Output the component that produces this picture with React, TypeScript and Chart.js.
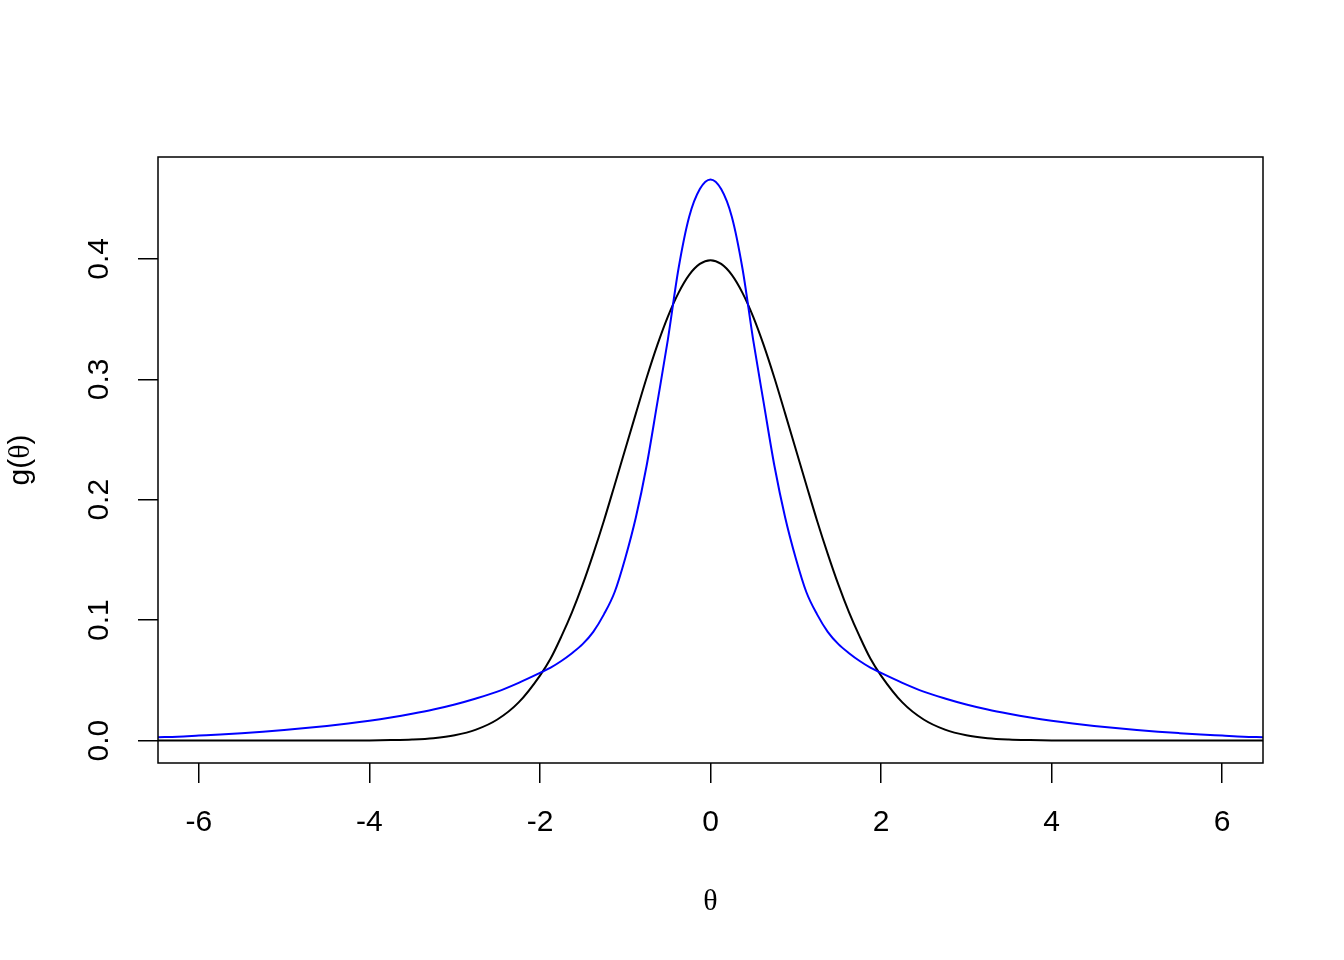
import React, { useEffect, useRef } from "react";
import { Chart, registerables } from "chart.js";

Chart.register(...registerables);

// θ grid
const theta = [
  -6.48, -6.25, -6, -5.75, -5.5, -5.25, -5, -4.75, -4.5, -4.25, -4, -3.75, -3.5, -3.25, -3, -2.75, -2.5, -2.25,
  -2, -1.875, -1.75, -1.625, -1.5, -1.375, -1.25, -1.125, -1, -0.875, -0.75, -0.625, -0.5, -0.375, -0.25, -0.125,
  0,
  0.125, 0.25, 0.375, 0.5, 0.625, 0.75, 0.875, 1, 1.125, 1.25, 1.375, 1.5, 1.625, 1.75, 1.875, 2,
  2.25, 2.5, 2.75, 3, 3.25, 3.5, 3.75, 4, 4.25, 4.5, 4.75, 5, 5.25, 5.5, 5.75, 6, 6.25, 6.48,
];

// black curve
const blackDensity = [
  0, 0, 0, 0, 0, 0, 0, 0, 0, 0, 0.0001, 0.0004, 0.0009, 0.002, 0.0044, 0.0091, 0.0175, 0.0317,
  0.054, 0.0681, 0.0863, 0.1065, 0.1295, 0.1551, 0.1826, 0.2121, 0.242, 0.2717, 0.3011, 0.3282, 0.3521, 0.3718, 0.3867, 0.3958,
  0.3989,
  0.3958, 0.3867, 0.3718, 0.3521, 0.3282, 0.3011, 0.2717, 0.242, 0.2121, 0.1826, 0.1551, 0.1295, 0.1065, 0.0863, 0.0681, 0.054,
  0.0317, 0.0175, 0.0091, 0.0044, 0.002, 0.0009, 0.0004, 0.0001, 0, 0, 0, 0, 0, 0, 0, 0, 0, 0,
];

// blue curve
const blueDensity = [
  0.0028, 0.0033, 0.0042, 0.0051, 0.0062, 0.0074, 0.0088, 0.0104, 0.0122, 0.0142, 0.0165, 0.0192, 0.0223, 0.0258, 0.03, 0.035, 0.0407, 0.048,
  0.0562, 0.0606, 0.0661, 0.0726, 0.0801, 0.0903, 0.1048, 0.1232, 0.1515, 0.1855, 0.228, 0.28, 0.333, 0.392, 0.435, 0.458,
  0.466,
  0.458, 0.435, 0.392, 0.333, 0.28, 0.228, 0.1855, 0.1515, 0.1232, 0.1048, 0.0903, 0.0801, 0.0726, 0.0661, 0.0606, 0.0562,
  0.048, 0.0407, 0.035, 0.03, 0.0258, 0.0223, 0.0192, 0.0165, 0.0142, 0.0122, 0.0104, 0.0088, 0.0074, 0.0062, 0.0051, 0.0042, 0.0033, 0.0028,
];

const xTicks = [-6, -4, -2, 0, 2, 4, 6];
const yTicks = [0, 0.1, 0.2, 0.3, 0.4];
const xLimits = [-6.48, 6.48];
const yLimits = [-0.0186, 0.4846];

const xTitle = "θ";
const yTitleParts = ["g(", "θ", ")"];

const SANS = "'Liberation Sans', Arial, Helvetica, sans-serif";
const SERIF = "'Liberation Serif', 'DejaVu Serif', 'Times New Roman', serif";
const FONT_SIZE = 30;

const rDecor = {
  id: "rDecor",
  afterDraw(chart: any) {
    const { ctx, chartArea: a } = chart;
    ctx.save();
    ctx.strokeStyle = "#000";
    ctx.lineWidth = 1.5;
    ctx.strokeRect(a.left, a.top, a.right - a.left, a.bottom - a.top);

    ctx.fillStyle = "#000";
    ctx.textBaseline = "alphabetic";
    ctx.textAlign = "center";
    ctx.font = `${FONT_SIZE}px ${SERIF}`;
    ctx.fillText(xTitle, (a.left + a.right) / 2, 910);

    // y title (rotated), mixed fonts
    ctx.translate(29, (a.top + a.bottom) / 2);
    ctx.rotate(-Math.PI / 2);
    ctx.textAlign = "left";
    const fonts = [`${FONT_SIZE}px ${SANS}`, `${FONT_SIZE}px ${SERIF}`, `${FONT_SIZE}px ${SANS}`];
    let total = 0;
    const widths = yTitleParts.map((t, i) => {
      ctx.font = fonts[i];
      const w = ctx.measureText(t).width;
      total += w;
      return w;
    });
    let x = -total / 2;
    yTitleParts.forEach((t, i) => {
      ctx.font = fonts[i];
      ctx.fillText(t, x, 0);
      x += widths[i];
    });
    ctx.restore();
  },
};

export default function App() {
  const ref = useRef<HTMLCanvasElement | null>(null);

  useEffect(() => {
    if (!ref.current) return;
    const chart = new Chart(ref.current, {
      type: "line",
      data: {
        datasets: [
          {
            label: "blue",
            data: theta.map((t, i) => ({ x: t, y: blueDensity[i] })),
            borderColor: "#0000ff",
            borderWidth: 2,
            pointRadius: 0,
            fill: false,
            cubicInterpolationMode: "monotone",
          },
          {
            label: "black",
            data: theta.map((t, i) => ({ x: t, y: blackDensity[i] })),
            borderColor: "#000000",
            borderWidth: 2,
            pointRadius: 0,
            fill: false,
            cubicInterpolationMode: "monotone",
          },
        ],
      },
      options: {
        responsive: false,
        animation: false,
        devicePixelRatio: 1,
        layout: { padding: { top: 157, right: 81, left: 0, bottom: 0 } },
        plugins: {
          legend: { display: false },
          tooltip: { enabled: false },
          title: { display: false },
        },
        scales: {
          x: {
            type: "linear",
            min: xLimits[0],
            max: xLimits[1],
            afterBuildTicks: (s: any) => {
              s.ticks = xTicks.map((v) => ({ value: v }));
            },
            afterFit: (s: any) => {
              s.height = 197;
            },
            grid: {
              drawOnChartArea: false,
              drawTicks: true,
              tickLength: 20,
              color: "#000",
              lineWidth: 1.5,
            },
            border: { display: false },
            ticks: {
              maxRotation: 0,
              minRotation: 0,
              padding: 22,
              color: "#000",
              font: { family: SANS, size: FONT_SIZE },
              callback: (v: any) => String(v),
            },
          },
          y: {
            type: "linear",
            min: yLimits[0],
            max: yLimits[1],
            afterBuildTicks: (s: any) => {
              s.ticks = yTicks.map((v) => ({ value: v }));
            },
            afterFit: (s: any) => {
              s.width = 158;
            },
            grid: {
              drawOnChartArea: false,
              drawTicks: true,
              tickLength: 20,
              color: "#000",
              lineWidth: 1.5,
            },
            border: { display: false },
            ticks: {
              minRotation: 90,
              maxRotation: 90,
              crossAlign: "center",
              padding: 17,
              color: "#000",
              font: { family: SANS, size: FONT_SIZE },
              callback: (v: any) => Number(v).toFixed(1),
            },
          },
        },
      },
      plugins: [rDecor],
    } as any);
    return () => chart.destroy();
  }, []);

  return (
    <div style={{ position: "fixed", left: 0, top: 0, width: 1344, height: 960, background: "#fff" }}>
      <canvas ref={ref} width={1344} height={960} style={{ display: "block" }} />
    </div>
  );
}
